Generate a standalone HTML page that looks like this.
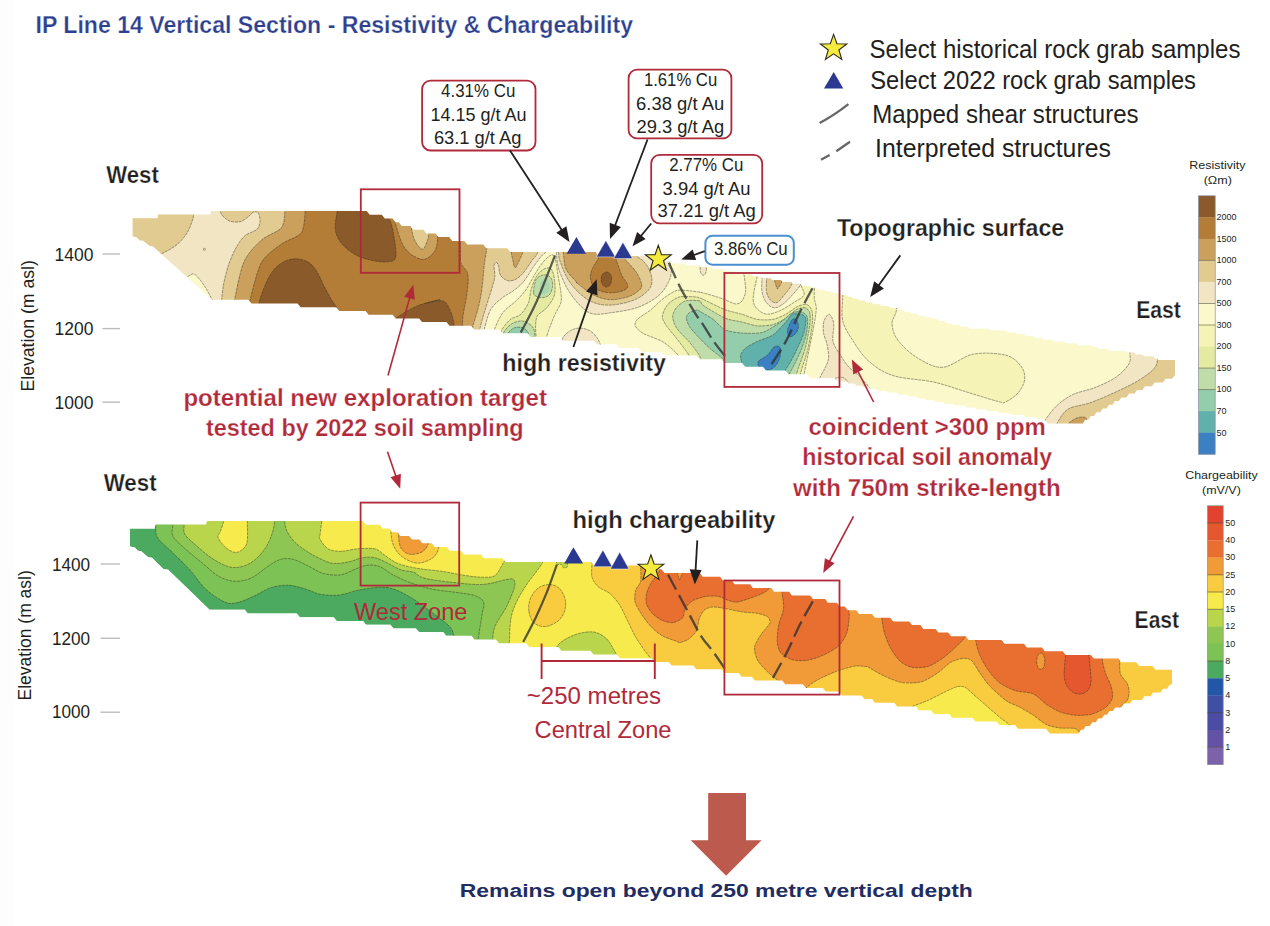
<!DOCTYPE html>
<html><head><meta charset="utf-8"><title>IP Line 14 Vertical Section</title>
<style>
html,body{margin:0;padding:0;background:#fff;}
body{width:1270px;height:926px;overflow:hidden;}
svg{display:block;font-family:"Liberation Sans",sans-serif;}
</style></head><body>
<svg width="1270" height="926" viewBox="0 0 1270 926">
<rect width="1270" height="926" fill="#fff"/><rect width="14" height="926" fill="#fdfdfd"/>
<clipPath id="rc"><path d="M132.6 218.3L157.8 218.3L157.8 214.6L210.7 214.6L210.7 211.1L366.7 211.1L369.7 214.8L381.8 214.8L384.8 218.5L392.5 218.5L395.5 222.3L398.8 222.3L401.8 226L410.2 226L413.2 229.7L423.4 229.7L426.4 233.4L435.4 233.4L438.4 237.1L449.2 237.1L452.2 240.9L464.3 240.9L467.3 244.6L483.2 244.6L486.2 248.3L507.2 248.3L510.2 252L596 252L597.5 255.9L646 255.9L646 257.8L649.2 257.8L650.8 259.6L660 259.6L661.5 261.5L670.5 261.5L672 263.3L685 263.3L686.5 265.2L699.2 265.2L700.8 267.1L712.2 267.1L713.8 268.9L724 268.9L725.5 270.8L733.5 270.8L735 272.6L742.7 272.6L744.3 274.5L751.7 274.5L753.3 276.4L760.5 276.4L762 278.2L770.7 278.2L772.3 280.1L781 280.1L782.5 281.9L791.2 281.9L792.8 283.8L800.5 283.8L802 285.7L809.5 285.7L811 287.5L817 287.5L818.5 289.4L824.5 289.4L826 291.2L832 291.2L833.5 293.1L839.2 293.1L840.8 295L846.5 295L848 296.8L852 296.8L853.5 298.7L857.7 298.7L859.3 300.5L864.7 300.5L866.3 302.4L872.2 302.4L873.8 304.3L880 304.3L881.5 306.1L888.5 306.1L890 308L896.7 308L898.3 309.8L903.5 309.8L905 311.7L910 311.7L911.5 313.6L917 313.6L918.5 315.4L924.2 315.4L925.8 317.3L931.5 317.3L933 319.1L938.2 319.1L939.8 321L944.5 321L946 322.9L950.7 322.9L952.3 324.7L959 324.7L960.5 326.6L968.2 326.6L969.8 328.4L989.2 328.4L990.8 330.3L1005.7 330.3L1007.3 332.2L1015 332.2L1016.5 334L1024.2 334L1025.8 335.9L1033.2 335.9L1034.8 337.7L1042.5 337.7L1044 339.6L1053 339.6L1054.5 341.5L1064.2 341.5L1065.8 343.3L1077.2 343.3L1078.8 345.2L1092.5 345.2L1094 347L1097.5 347L1099 348.9L1108.5 348.9L1110 350.8L1125.5 350.8L1127 352.6L1134.2 352.6L1135.8 354.5L1142.7 354.5L1144.3 356.3L1153.2 356.3L1154.8 358.2L1157 358.2L1158.5 360.1L1175 360.1L1175 376.2L1174.7 375L1172.3 378.8L1165.5 378.8L1163 382.5L1154.5 382.5L1152 386.2L1145 386.2L1142.5 389.9L1137 389.9L1134.5 393.6L1129 393.6L1126.5 397.4L1121.2 397.4L1118.8 401.1L1115 401.1L1112.5 404.8L1109 404.8L1106.5 408.5L1102.7 408.5L1100.3 412.2L1096.5 412.2L1094 416L1090.7 416L1088.3 419.7L1085.2 419.7L1082.8 423.4L1078.9 423.4L1046.8 423.4L1046.8 422.6L1047.1 422.6L1045.5 420.7L1044.8 420.7L1043.2 418.8L1035.1 418.8L1033.5 417L1024.3 417L1022.8 415.1L1011.8 415.1L1010.2 413.3L999.6 413.3L998 411.4L987.6 411.4L986 409.5L976.8 409.5L975.2 407.7L966.1 407.7L964.5 405.8L955.3 405.8L953.8 404L944.8 404L943.2 402.1L935.3 402.1L933.8 400.2L926.3 400.2L924.8 398.4L917.3 398.4L915.8 396.5L908.6 396.5L907 394.7L898.6 394.7L897 392.8L888.1 392.8L886.5 390.9L877.8 390.9L876.2 389.1L870.6 389.1L869 387.2L863.3 387.2L861.8 385.4L856.1 385.4L854.5 383.5L848.8 383.5L847.2 381.6L841.6 381.6L840 379.8L837.5 379.8L837.5 381.6L834.5 377.9L809.5 377.9L806.5 374.2L788.5 374.2L785.5 370.5L766 370.5L763 366.8L745.2 366.8L742.2 363L724.4 363L721.4 359.3L699.8 359.3L696.8 355.6L663.9 355.6L660.9 351.9L641.2 351.9L638.2 348.2L619.5 348.2L616.5 344.4L597 344.4L594 340.7L563 340.7L560 337L530.8 337L527.8 333.3L502.5 333.3L499.5 329.6L474.1 329.6L471.1 325.8L449.5 325.8L446.5 322.1L422.1 322.1L419.1 318.4L395.7 318.4L392.7 314.7L368.6 314.7L365.6 311L339.3 311L336.3 307.2L300.6 307.2L297.6 303.5L251.5 303.5L248.5 299.8L212.1 299.8L153.1 246.6L149.8 246L145.5 242.8L142.8 240.6L139.6 240.6L136.9 237.4L132.6 236.3Z"/></clipPath>
<g clip-path="url(#rc)" opacity="0.999">
<path d="M132.6 218.3L157.8 218.3L157.8 214.6L210.7 214.6L210.7 211.1L366.7 211.1L369.7 214.8L381.8 214.8L384.8 218.5L392.5 218.5L395.5 222.3L398.8 222.3L401.8 226L410.2 226L413.2 229.7L423.4 229.7L426.4 233.4L435.4 233.4L438.4 237.1L449.2 237.1L452.2 240.9L464.3 240.9L467.3 244.6L483.2 244.6L486.2 248.3L507.2 248.3L510.2 252L596 252L597.5 255.9L646 255.9L646 257.8L649.2 257.8L650.8 259.6L660 259.6L661.5 261.5L670.5 261.5L672 263.3L685 263.3L686.5 265.2L699.2 265.2L700.8 267.1L712.2 267.1L713.8 268.9L724 268.9L725.5 270.8L733.5 270.8L735 272.6L742.7 272.6L744.3 274.5L751.7 274.5L753.3 276.4L760.5 276.4L762 278.2L770.7 278.2L772.3 280.1L781 280.1L782.5 281.9L791.2 281.9L792.8 283.8L800.5 283.8L802 285.7L809.5 285.7L811 287.5L817 287.5L818.5 289.4L824.5 289.4L826 291.2L832 291.2L833.5 293.1L839.2 293.1L840.8 295L846.5 295L848 296.8L852 296.8L853.5 298.7L857.7 298.7L859.3 300.5L864.7 300.5L866.3 302.4L872.2 302.4L873.8 304.3L880 304.3L881.5 306.1L888.5 306.1L890 308L896.7 308L898.3 309.8L903.5 309.8L905 311.7L910 311.7L911.5 313.6L917 313.6L918.5 315.4L924.2 315.4L925.8 317.3L931.5 317.3L933 319.1L938.2 319.1L939.8 321L944.5 321L946 322.9L950.7 322.9L952.3 324.7L959 324.7L960.5 326.6L968.2 326.6L969.8 328.4L989.2 328.4L990.8 330.3L1005.7 330.3L1007.3 332.2L1015 332.2L1016.5 334L1024.2 334L1025.8 335.9L1033.2 335.9L1034.8 337.7L1042.5 337.7L1044 339.6L1053 339.6L1054.5 341.5L1064.2 341.5L1065.8 343.3L1077.2 343.3L1078.8 345.2L1092.5 345.2L1094 347L1097.5 347L1099 348.9L1108.5 348.9L1110 350.8L1125.5 350.8L1127 352.6L1134.2 352.6L1135.8 354.5L1142.7 354.5L1144.3 356.3L1153.2 356.3L1154.8 358.2L1157 358.2L1158.5 360.1L1175 360.1L1175 376.2L1174.7 375L1172.3 378.8L1165.5 378.8L1163 382.5L1154.5 382.5L1152 386.2L1145 386.2L1142.5 389.9L1137 389.9L1134.5 393.6L1129 393.6L1126.5 397.4L1121.2 397.4L1118.8 401.1L1115 401.1L1112.5 404.8L1109 404.8L1106.5 408.5L1102.7 408.5L1100.3 412.2L1096.5 412.2L1094 416L1090.7 416L1088.3 419.7L1085.2 419.7L1082.8 423.4L1078.9 423.4L1046.8 423.4L1046.8 422.6L1047.1 422.6L1045.5 420.7L1044.8 420.7L1043.2 418.8L1035.1 418.8L1033.5 417L1024.3 417L1022.8 415.1L1011.8 415.1L1010.2 413.3L999.6 413.3L998 411.4L987.6 411.4L986 409.5L976.8 409.5L975.2 407.7L966.1 407.7L964.5 405.8L955.3 405.8L953.8 404L944.8 404L943.2 402.1L935.3 402.1L933.8 400.2L926.3 400.2L924.8 398.4L917.3 398.4L915.8 396.5L908.6 396.5L907 394.7L898.6 394.7L897 392.8L888.1 392.8L886.5 390.9L877.8 390.9L876.2 389.1L870.6 389.1L869 387.2L863.3 387.2L861.8 385.4L856.1 385.4L854.5 383.5L848.8 383.5L847.2 381.6L841.6 381.6L840 379.8L837.5 379.8L837.5 381.6L834.5 377.9L809.5 377.9L806.5 374.2L788.5 374.2L785.5 370.5L766 370.5L763 366.8L745.2 366.8L742.2 363L724.4 363L721.4 359.3L699.8 359.3L696.8 355.6L663.9 355.6L660.9 351.9L641.2 351.9L638.2 348.2L619.5 348.2L616.5 344.4L597 344.4L594 340.7L563 340.7L560 337L530.8 337L527.8 333.3L502.5 333.3L499.5 329.6L474.1 329.6L471.1 325.8L449.5 325.8L446.5 322.1L422.1 322.1L419.1 318.4L395.7 318.4L392.7 314.7L368.6 314.7L365.6 311L339.3 311L336.3 307.2L300.6 307.2L297.6 303.5L251.5 303.5L248.5 299.8L212.1 299.8L153.1 246.6L149.8 246L145.5 242.8L142.8 240.6L139.6 240.6L136.9 237.4L132.6 236.3Z" fill="#FBF8CB"/>
<path d="M546 244.4C546 245.6 546.7 249.6 546 251.6C545.2 253.5 543.5 253.6 541.4 256.1C539.4 258.6 536.7 262.1 533.6 266.5C530.6 270.8 526.7 277.9 523.3 282C519.8 286.1 516.4 288.5 512.9 291.1C509.5 293.7 506.2 294.5 502.6 297.6C498.9 300.6 493.9 304 490.9 309.2C487.9 314.4 485.9 323.2 484.4 328.6C482.9 334 482.3 339.4 481.8 341.6L100 450L100 150Z" fill="#F1E5C3" stroke="#2b2b20" stroke-width="0.45" stroke-dasharray="3 0.8"/>
<path d="M556.3 244.4C556.3 245.8 556.1 249.6 556.3 252.9C556.5 256.1 557 260.6 557.6 263.9C558.2 267.1 558.3 268.2 559.9 272.4C561.6 276.6 564.5 283.9 567.7 289.3C571 294.7 575.3 300.7 579.4 304.8C583.5 308.9 587 312.6 592.4 313.8C597.8 315.1 604.3 313.6 611.8 312.6C619.4 311.5 630 310.2 637.7 307.4C645.5 304.6 653.3 300 658.5 295.7C663.6 291.4 666.7 285.8 668.8 281.5C671 277.1 671.2 273 671.4 269.8C671.6 266.6 670.3 266.1 670.1 262C669.9 257.9 670.1 248 670.1 245.2Z" fill="#F1E5C3" stroke="#2b2b20" stroke-width="0.45" stroke-dasharray="3 0.8"/>
<path d="M561.3 351.4C561.5 349.3 561.1 341.9 562.6 338.5C564.1 335 567.6 332.4 570.4 330.7C573.2 329 576.2 328.1 579.4 328.1C582.7 328.1 586.8 329 589.8 330.7C592.8 332.4 595.6 335.7 597.6 338.5C599.5 341.3 600.8 346 601.5 347.5Z" fill="#F1E5C3" stroke="#2b2b20" stroke-width="0.45" stroke-dasharray="3 0.8"/>
<path d="M700.6 259.4C700.5 261.4 699.9 268.5 700.3 271.1C700.7 273.7 702.2 275.1 703.2 275.2C704.1 275.3 705.6 274.4 706.1 271.7C706.7 269.1 706.4 261.5 706.4 259.4Z" fill="#F1E5C3" stroke="#2b2b20" stroke-width="0.45" stroke-dasharray="3 0.8"/>
<path d="M819.6 393.3C819.4 391.5 817.5 385.3 818.3 381.6C819 377.9 823.2 372.1 824.7 368.6C826.3 365.1 828.2 361.8 828.6 358.3C829 354.8 828.1 349.2 827.3 345.3C826.6 341.4 823.9 336.1 823.4 332.4C823 328.7 823.2 323.4 824.1 320.7C825 318 827.8 313.8 829.3 314.2C830.7 314.7 833.2 319.6 833.8 323.7C834.3 327.8 831.9 336.7 833 341.5C834 346.4 838.6 352.2 841.1 356.1C843.5 360 846.2 364.3 849.1 367.4C852.1 370.6 856.8 373.3 860.5 377.2C864.1 381.1 870.3 388.5 873.4 393.4C876.6 398.2 880.3 407.1 881.5 409.6Z" fill="#F1E5C3" stroke="#2b2b20" stroke-width="0.45" stroke-dasharray="3 0.8"/>
<path d="M829.7 393.4C830.1 391.3 830.5 383.9 832.1 381.2C833.8 378.5 837 377.3 839.4 377.2C841.9 377 845 377.7 846.7 380.4C848.5 383.1 849.4 391.2 850 393.4Z" fill="#F1E5C3" stroke="#2b2b20" stroke-width="0.45" stroke-dasharray="3 0.8"/>
<path d="M1129.8 340C1129.8 342 1129.9 348.2 1129.8 352.1C1129.7 356 1131.3 359.4 1129.1 363.5C1126.9 367.6 1122.1 372.9 1116.4 376.9C1110.7 380.9 1102.2 384.7 1095 387.6C1087.8 390.5 1079.8 391.4 1073.5 394.3C1067.2 397.2 1062.2 400.8 1057.5 405C1052.8 409.2 1048.3 415.5 1045.4 419.7C1042.5 423.9 1040.9 428.3 1040 430L1200 430L1200 340Z" fill="#F1E5C3" stroke="#2b2b20" stroke-width="0.45" stroke-dasharray="3 0.8"/>
<path d="M182 282C183 281.1 186.2 277.6 188.2 276.3C190.2 275 192 273.4 194.1 274.1C196.2 274.8 198.4 277.9 200.6 280.6C202.8 283.3 204.9 286.7 207.1 290.3C209.2 293.9 212.4 300.1 213.5 302Z" fill="#FBF8CB" stroke="#2b2b20" stroke-width="0.45" stroke-dasharray="3 0.8"/>
<path d="M204.4 247.8C204.7 247.8 205.3 248.8 205.3 249.3C205.3 249.8 204.7 250.9 204.4 250.9C204.1 250.9 203.5 249.8 203.5 249.3C203.5 248.8 204.1 247.8 204.4 247.8Z" fill="#F1E5C3" stroke="#2b2b20" stroke-width="0.45" stroke-dasharray="3 0.8"/>
<path d="M193.8 200C193.8 202.4 194 210.9 193.6 214.7C193.2 218.5 192.6 219.9 191.5 223C190.4 226.1 189.1 229.7 187 233C184.9 236.3 181.8 240.1 179 242.8C176.2 245.5 173.4 247.2 170.5 249C167.6 250.8 165.4 251.9 161.7 253.6C157.9 255.3 150.3 258.1 148 259L100 300L100 180Z" fill="#E2CB90" stroke="#2b2b20" stroke-width="0.45" stroke-dasharray="3 0.8"/>
<path d="M219.5 200.1C219.7 202 220 210 220.8 212.7C221.5 215.3 223.1 216.4 224.6 217.7C226.1 219 228.4 220.9 230.9 221.5C233.3 222.1 238.3 222.3 240.9 221.5C243.6 220.7 246.6 217.9 248.5 216.5C250.4 215.1 252.1 212.7 253.5 212.2C255 211.6 257.1 211.5 258.1 212.7C259.1 213.9 260.2 217.8 260.1 220.2C260 222.7 259.6 226.7 257.3 229.1C255 231.4 247.9 233 244.7 235.9C241.5 238.7 238.4 243.5 235.9 248C233.4 252.4 230.2 259.9 228.3 265.6C226.5 271.3 224.4 279.3 223.3 285.7C222.2 292.2 221.2 305 220.8 308.4L479.9 341.6C479.9 339.7 479 333.7 479.9 328.6C480.8 323.6 483.9 314.1 485.7 307.9C487.6 301.7 490.8 291.9 492.2 287.2C493.5 282.5 494.5 280.1 494.8 276.8C495.1 273.5 493.8 267.3 494.1 265.2C494.4 263 496 262.4 496.7 262.6C497.4 262.8 498.1 264.5 498.7 266.5C499.2 268.4 499.2 273.4 500.6 275.5C502 277.7 505.5 280.1 507.7 280.7C510 281.3 513.2 280.6 515.5 279.4C517.8 278.2 520.8 275.9 523.3 272.9C525.8 270 530.2 263 532.3 260C534.5 257 536.6 256.2 537.5 252.9C538.5 249.6 538.6 240.2 538.8 238Z" fill="#E2CB90" stroke="#2b2b20" stroke-width="0.45" stroke-dasharray="3 0.8"/>
<path d="M558.3 244.4C558.3 245.8 558.2 250.1 558.5 252.9C558.8 255.6 558.4 256.4 559.9 260.8C561.5 265.1 564.3 273.3 567.7 278.9C571.2 284.5 575.9 290.3 580.7 294.4C585.4 298.5 590.7 301.8 596.3 303.5C601.9 305.2 607.9 305.4 614.4 304.8C620.9 304.1 629.5 302 635.1 299.6C640.8 297.2 645.3 293.5 648.1 290.5C650.9 287.5 651.8 284.9 652 281.5C652.2 278 650.9 273.3 649.4 269.8C647.9 266.3 645.1 263.1 642.9 260.7C640.8 258.4 637.6 258.1 636.4 255.5C635.2 253 635.9 246.9 635.8 245.2Z" fill="#E2CB90" stroke="#2b2b20" stroke-width="0.45" stroke-dasharray="3 0.8"/>
<path d="M1157.9 345C1157.9 347.2 1158.6 354.1 1157.9 358.1C1157.2 362.1 1157.2 365 1153.9 368.8C1150.6 372.6 1144.5 376.9 1137.8 380.9C1131.1 384.9 1121.7 389.2 1113.7 392.9C1105.7 396.6 1097.2 400.3 1089.6 403C1082 405.7 1073.5 405.8 1068.2 409C1062.9 412.2 1059.7 418.9 1057.5 422.4C1055.3 425.9 1055.4 428.7 1055 430L1200 430L1200 345Z" fill="#E2CB90" stroke="#2b2b20" stroke-width="0.45" stroke-dasharray="3 0.8"/>
<path d="M1066 430C1066.3 429.2 1068.3 423.6 1069.5 422.4C1070.7 421.2 1076 418.2 1077.6 417.7C1079.2 417.2 1084.4 416.5 1085.6 417.7C1086.8 418.9 1089.6 428.8 1090 430Z" fill="#CBA05C" stroke="#2b2b20" stroke-width="0.45" stroke-dasharray="3 0.8"/>
<path d="M285 200.1C285 201.7 285.6 206.5 285 210.7C284.5 214.8 284.9 223.3 281.3 227.8C277.7 232.3 266.8 235.1 261.1 240.4C255.4 245.7 247.6 253.2 243.5 263.1C239.3 272.9 234.9 299.5 233.4 305.9L472.8 341.6C472.8 339.5 472 332.2 472.8 327.3C473.5 322.5 476.6 314.8 477.9 309.2C479.3 303.6 480.9 296.6 481.8 289.8C482.8 283 483.6 270.4 484.4 263.9C485.2 257.4 486.6 251 487 246.4C487.4 241.7 487 234.8 487 232.8Z" fill="#CBA05C" stroke="#2b2b20" stroke-width="0.45" stroke-dasharray="3 0.8"/>
<path d="M511 244.4C511 244.8 510.8 250.5 511 251.6C511.1 252.7 514 265.7 514.2 266.5C514.5 267.2 515.7 267.9 516.2 267.1C516.6 266.4 522.9 252.7 523.3 251.6C523.6 250.4 523.3 244.8 523.3 244.4Z" fill="#CBA05C" stroke="#2b2b20" stroke-width="0.45" stroke-dasharray="3 0.8"/>
<path d="M563.4 244.4C563.4 245.8 563 248.8 563.4 252.9C563.9 257 563.9 264.2 566 269C568.2 273.9 574.6 279.7 576.4 282C578.2 284.3 574.2 280.7 576.8 282.8C579.5 284.8 587 291.6 592.4 294.4C597.8 297.2 603.4 299.2 609.2 299.6C615.1 300 622.4 298.5 627.4 297C632.3 295.5 636.7 292.7 639 290.5C641.4 288.4 642.1 287.1 641.6 284C641.2 281 638.6 275.8 636.4 272.4C634.3 268.9 630.6 265.7 628.7 263.3C626.7 260.9 625.4 261.2 624.8 258.1C624.1 255.1 624.8 247.3 624.8 245.2Z" fill="#CBA05C" stroke="#2b2b20" stroke-width="0.45" stroke-dasharray="3 0.8"/>
<path d="M305.2 200.1C305.2 201.5 305.7 206.3 305.2 210.7C304.7 215 304.6 228.4 301.4 232.8C298.2 237.3 286.6 240.1 281.3 244.2C275.9 248.2 265.5 254.8 261.1 263.1C256.7 271.3 250.2 300.2 248.5 305.9L462.4 341.6C462.4 339.7 462.3 330.8 462.4 327.3C462.5 323.9 462.5 319.7 463 315.7C463.6 311.7 465.6 302.2 466.3 297.6C467 292.9 468.1 284.2 468.2 280.7C468.3 277.3 467.9 274.1 466.9 271.6C465.9 269.2 461.7 266.6 460.8 262.6C460 258.5 460.5 246.2 460.4 241.2C460.4 236.2 460.4 227.2 460.4 225Z" fill="#B37C37" stroke="#2b2b20" stroke-width="0.45" stroke-dasharray="3 0.8"/>
<path d="M598.9 245.2C598.9 247.1 599.9 253 598.9 256.8C597.8 260.7 593.8 265 592.4 268.5C591 272 590.2 274.5 590.4 277.6C590.7 280.6 591.6 284.3 593.7 286.6C595.7 289 599.1 290.9 602.8 291.8C606.4 292.8 611.8 292.9 615.7 292.5C619.6 292 624.1 290.6 626.1 289.2C628 287.8 628 286.2 627.4 284C626.7 281.9 623.7 279.3 622.2 276.3C620.7 273.3 619.4 269 618.3 265.9C617.2 262.8 616.1 260.9 615.7 257.5C615.3 254 615.7 247.2 615.7 245.2Z" fill="#B37C37" stroke="#2b2b20" stroke-width="0.45" stroke-dasharray="3 0.8"/>
<path d="M337.2 199.8C337.2 201.7 337.6 206.7 337.2 210.8C336.9 214.9 335.4 220.4 335.3 224.4C335.2 228.4 335.3 231.3 336.6 234.8C337.9 238.3 340.1 241.9 343.1 245.2C346.1 248.4 350.6 251.9 354.7 254.2C358.8 256.6 362.3 258.1 367.7 259.4C373.1 260.7 382.4 262.5 387.1 261.8C391.8 261.2 395.3 262 395.9 255.5C396.5 249 393.2 229.9 390.9 222.8C388.6 215.6 383.5 216.5 382 212.7C380.6 208.9 382 202.2 382 200.1Z" fill="#8A5A2A" stroke="#2b2b20" stroke-width="0.45" stroke-dasharray="3 0.8"/>
<path d="M257.6 316.4C257.8 314.3 257.8 308.2 258.9 303.5C259.9 298.7 261.9 293.1 264 287.9C266.2 282.7 268.8 276.6 271.8 272.4C274.8 268.2 278.3 264.9 282.2 262.7C286.1 260.4 290.8 258.9 295.1 258.8C299.5 258.7 304.5 260 308.1 262C311.7 264.1 313.9 267.2 316.5 271.1C319.1 275 321.2 280.6 323.6 285.3C326.1 290.1 329.3 295.9 331.4 299.6C333.6 303.2 335.1 304.5 336.6 307.3C338.1 310.2 339.8 314.9 340.5 316.4Z" fill="#8A5A2A" stroke="#2b2b20" stroke-width="0.45" stroke-dasharray="3 0.8"/>
<path d="M394.6 321C395.1 320.4 393.4 319.8 397.2 317.2C400.9 314.7 410.2 308.8 417.3 305.9C424.5 303 438.7 300 440 299.6C441.3 299.2 424.7 303.2 425.2 303.5C425.7 303.7 438.6 299.7 442.8 300.9C447 302.2 448.5 306.8 450.4 311C452.3 315.2 453.5 321.1 454.2 326.1C454.8 331.2 454.2 338.7 454.2 341.3Z" fill="#8A5A2A" stroke="#2b2b20" stroke-width="0.45" stroke-dasharray="3 0.8"/>
<path d="M606.4 272C607.7 272 609.7 273.1 610.5 274.3C611.4 275.6 611.6 277.8 611.6 279.5C611.5 281.2 611.1 283.4 610.3 284.7C609.4 285.9 607.7 287 606.4 287C605.1 287 603.4 285.9 602.5 284.7C601.6 283.4 601.2 281.2 601.2 279.5C601.2 277.8 601.6 275.6 602.5 274.3C603.4 273.1 605 272 606.4 272Z" fill="#8A5A2A" stroke="#2b2b20" stroke-width="0.45" stroke-dasharray="3 0.8"/>
<path d="M393.4 205.1C393.6 207.6 392.8 213.1 394.6 220.2C396.5 227.4 400.1 241.4 404.7 248C409.3 254.5 417.3 258.9 422.4 259.3C427.4 259.7 432.4 254.9 435 250.5C437.6 246.1 437.4 240.4 438 232.8C438.6 225.3 438.6 209.7 438.7 205.1Z" fill="#CBA05C" stroke="#2b2b20" stroke-width="0.45" stroke-dasharray="3 0.8"/>
<path d="M410.3 205.1C410.4 208.5 410.3 219.4 411 225.3C411.8 231.2 412.9 236.4 414.8 240.4C416.7 244.4 420.3 249.2 422.4 249.2C424.5 249.2 426.3 243.3 427.4 240.4C428.5 237.5 428.6 237.5 428.9 231.6C429.2 225.7 429.3 209.5 429.4 205.1Z" fill="#E2CB90" stroke="#2b2b20" stroke-width="0.45" stroke-dasharray="3 0.8"/>
<path d="M492.2 348.1C492.4 345.5 491.8 338.4 493.5 332.5C495.2 326.7 498.9 318.3 502.6 313.1C506.2 307.9 511.6 305.3 515.5 301.4C519.4 297.6 522.6 294.3 525.9 289.8C529.1 285.2 532.1 278.8 534.9 274.2C537.7 269.7 540.1 265.7 542.7 262.6C545.3 259.4 548.5 256.5 550.5 255.4C552.4 254.4 553.4 254.7 554.4 256.1C555.3 257.5 555.7 260.4 556.3 263.9C557 267.3 557.5 272.1 558.3 276.8C559 281.6 560.4 288 560.9 292.4C561.3 296.7 561.9 298.8 560.9 302.7C559.8 306.6 556.7 310.1 554.4 315.7C552 321.3 548.3 331 546.6 336.4C544.9 341.8 544.4 346.1 544 348.1Z" fill="#F5F3B6" stroke="#2b2b20" stroke-width="0.45" stroke-dasharray="3 0.8"/>
<path d="M500 348.1C500.1 345.5 498.9 337.3 500.6 332.5C502.3 327.8 507 322.6 510.3 319.6C513.7 316.6 517.7 317.2 520.7 314.4C523.7 311.6 526.7 306.8 528.5 302.7C530.2 298.6 529.8 294.1 531.1 289.8C532.3 285.5 534.1 280.3 536.2 276.8C538.4 273.4 541.5 270.3 544 269C546.5 267.8 549.4 267.3 551.1 269C552.9 270.8 553.8 275.1 554.4 279.4C554.9 283.7 555.7 290.2 554.4 295C553.1 299.7 549.4 304.5 546.6 307.9C543.8 311.4 539.4 312.7 537.5 315.7C535.7 318.7 535.8 322.2 535.6 326.1C535.4 329.9 536.1 335.3 536.2 339C536.3 342.7 536.2 346.6 536.2 348.1Z" fill="#E4EAA2" stroke="#2b2b20" stroke-width="0.45" stroke-dasharray="3 0.8"/>
<path d="M533.6 292.4C533.6 289.6 534.5 282.3 536.2 279.4C538 276.5 541.5 275.1 544 274.9C546.5 274.7 549.7 276.1 551.1 278.1C552.5 280.2 552.8 284.4 552.4 287.2C552.1 290 550.8 293.2 549.2 295C547.6 296.7 544.9 297.3 542.7 297.6C540.6 297.8 537.7 297.1 536.2 296.3C534.7 295.4 533.6 295.2 533.6 292.4Z" fill="#C0DDA9" stroke="#2b2b20" stroke-width="0.45" stroke-dasharray="3 0.8"/>
<path d="M502.6 348.1C502.6 345.9 501.3 339 502.6 335.1C503.8 331.2 507.3 327.1 510.3 324.8C513.3 322.4 517.7 321.1 520.7 320.9C523.7 320.7 526.3 322.2 528.5 323.5C530.6 324.8 532.6 326.3 533.6 328.6C534.7 331 534.7 334.5 534.9 337.7C535.2 341 534.9 346.3 534.9 348.1Z" fill="#C0DDA9" stroke="#2b2b20" stroke-width="0.45" stroke-dasharray="3 0.8"/>
<path d="M539.5 287.2C539.5 285.4 539.9 282.8 540.8 281.4C541.6 280 543.4 278.8 544.7 278.8C546 278.8 547.7 280 548.5 281.4C549.4 282.8 550 285.3 549.8 287.2C549.7 289.1 548.7 291.4 547.6 292.6C546.6 293.8 545 294.4 543.7 294.3C542.5 294.3 541.1 293.6 540.4 292.4C539.7 291.2 539.4 289 539.5 287.2Z" fill="#A9D6AA"/>
<path d="M507.7 348.1C507.5 346.1 505.6 339.7 506.4 336.4C507.3 333.2 510.5 330.2 512.9 328.6C515.3 327.1 518.3 326.9 520.7 327.3C523.1 327.8 525.8 329.3 527.2 331.2C528.6 333.2 528.8 336.2 529.1 339C529.4 341.8 529.1 346.6 529.1 348.1Z" fill="#93CDAC" stroke="#2b2b20" stroke-width="0.45" stroke-dasharray="3 0.8"/>
<path d="M679.2 369.6C679.2 367.8 681.3 360.2 679.2 356.6C677.1 353 668.5 345.5 663.6 342.3C658.8 339.2 646.7 335.5 642.9 333.3C639.1 331 635.8 327.4 635.1 325.5C634.5 323.6 635.7 321.1 637.7 319C639.8 317 647.2 312.7 650.7 310C654.1 307.2 660.2 300.9 663.6 298.3C667.1 295.7 673.1 291.5 676.6 290.5C680.1 289.5 686.5 290.6 690 290.9C693.5 291.2 698.6 291.8 703 292.9C707.3 293.9 718.1 297.2 722.4 298.7C726.7 300.2 732.8 303.5 735.3 303.9C737.9 304.2 740.4 303 741.8 301.3C743.2 299.5 745.4 294.7 745.7 290.9C746 287.1 744 275.2 743.8 272.8L814.4 265L814.4 283.1C814.4 285.2 814.1 295.4 814.4 298.7C814.6 302 816.3 304.5 816.3 307.8C816.3 311 815.3 317.8 814.4 323.3C813.4 328.8 810.6 342.3 809.2 349.2C807.8 356.1 804.9 369.2 804 375.1C803.1 381 802.9 390.8 802.7 393.3Z" fill="#F5F3B6" stroke="#2b2b20" stroke-width="0.45" stroke-dasharray="3 0.8"/>
<path d="M758 272.8C757.4 275.8 754.9 285.9 754.1 290.9C753.4 295.9 752.7 299.3 753.5 302.6C754.2 305.8 756.3 308.4 758.7 310.3C761 312.3 764.1 314.2 767.7 314.2C771.4 314.2 776.4 312.3 780.7 310.3C785 308.4 789.8 305.2 793.6 302.6C797.5 300 802.9 298 804 294.8C805.1 291.6 800.8 286.8 800.1 283.1C799.5 279.5 800.1 274.5 800.1 272.8Z" fill="#FBF8CB" stroke="#2b2b20" stroke-width="0.45" stroke-dasharray="3 0.8"/>
<path d="M762.6 272.8C762.4 275.8 761.3 285.9 761.9 290.9C762.6 295.9 764.4 299.8 766.4 302.6C768.5 305.4 771.4 307.5 774.2 307.8C777 308 780 306.2 783.3 303.9C786.5 301.5 790.6 297 793.6 293.5C796.7 290 800.1 286.6 801.4 283.1C802.7 279.7 801.4 274.5 801.4 272.8Z" fill="#F1E5C3" stroke="#2b2b20" stroke-width="0.45" stroke-dasharray="3 0.8"/>
<path d="M767.1 272.8C767 275.8 765.9 286.4 766.4 290.9C767 295.4 768.6 298 770.3 300C772.1 301.9 774.6 303.2 776.8 302.6C779 301.9 780.8 299.1 783.3 296.1C785.8 293.1 790.3 288.3 791.7 284.4C793.1 280.5 791.7 274.7 791.7 272.8Z" fill="#E2CB90" stroke="#2b2b20" stroke-width="0.45" stroke-dasharray="3 0.8"/>
<path d="M774.2 276.7C774.2 276.9 774.7 281.2 774.9 281.8C775 282.5 777.1 288.9 777.4 289C777.8 289 781.1 283.8 781.3 283.1C781.6 282.5 782.2 277 782.2 276.7Z" fill="#CBA05C" stroke="#2b2b20" stroke-width="0.45" stroke-dasharray="3 0.8"/>
<path d="M689.6 369.6C689.6 367.8 691.3 360.7 689.6 356.6C687.8 352.5 679.7 342.6 676.6 338.5C673.5 334.3 668.1 328.4 666.2 325.5C664.3 322.6 662.2 319.2 662.3 316.4C662.5 313.7 665.3 307.4 667.5 304.8C669.8 302.2 675.4 298 679.2 297C683 296 692.9 296.7 696 297C699.2 297.3 699.1 297.6 703 299.3C706.8 301 719.8 307.7 725 309.7C730.2 311.7 737.5 312.9 741.8 314.2C746.1 315.5 753.2 318.7 757.4 319.4C761.5 320.1 769.1 320.1 772.9 319.4C776.7 318.7 782.6 316 785.9 314.2C789.2 312.5 794.8 307.8 797.5 306.5C800.3 305.2 804.7 304 806.6 304.5C808.5 305 811 307.8 811.8 310.3C812.6 312.8 812.9 318.1 812.4 323.3C811.9 328.5 809.5 342.3 807.9 349.2C806.3 356.1 801.3 369.2 800.1 375.1C798.9 381 799 390.8 798.8 393.3Z" fill="#E4EAA2" stroke="#2b2b20" stroke-width="0.45" stroke-dasharray="3 0.8"/>
<path d="M699.9 369.6C699.9 367.8 701.3 360.2 699.9 356.6C698.5 353 692.7 346.1 689.6 342.3C686.4 338.5 678.8 331.6 676.6 328.1C674.4 324.6 672.7 319.2 672.7 316.4C672.7 313.7 674.9 309.4 676.6 307.4C678.3 305.3 682.6 301.8 685.7 300.9C688.8 300 697.6 300.3 699.9 300.9C702.2 301.5 699.6 302.9 703 305.2C706.3 307.5 719.8 315.9 725 318.1C730.2 320.4 737.5 321 741.8 322C746.1 323 753.2 325.5 757.4 325.9C761.5 326.2 769.1 325.6 772.9 324.6C776.7 323.6 782.8 320.1 785.9 318.1C789 316.1 793.6 311.1 796.2 309.7C798.8 308.3 803.5 307.3 805.3 307.8C807.1 308.2 809.2 310.7 809.8 312.9C810.4 315.2 810.4 319.9 809.8 324.6C809.2 329.3 807.1 341.2 805.3 347.9C803.5 354.7 797.6 369.1 796.2 375.1C794.9 381.2 795.1 390.8 794.9 393.3Z" fill="#C0DDA9" stroke="#2b2b20" stroke-width="0.45" stroke-dasharray="3 0.8"/>
<path d="M725 393.3C725 389.3 725.6 368.4 725 363.5C724.3 358.6 722 358.5 720.1 356.6C718.1 354.6 713 351.2 710.3 348.8C707.6 346.4 702.6 341.4 699.8 338.5C697.1 335.5 691.4 329.6 689.6 326.8C687.8 324 686.3 319.6 686.3 317.7C686.3 315.8 688.1 313.6 689.6 312.6C691 311.5 695.9 310.1 697.3 310C698.8 309.8 698.2 310.4 700.4 311.6C702.5 312.9 710 317 713.3 319.4C716.6 321.8 721.2 328 725 329.8C728.8 331.6 736.8 332.7 741.8 333C746.8 333.4 757.4 333.8 762.6 332.4C767.7 330.9 776.9 324.5 780.7 322C784.5 319.5 788.5 315 791.1 313.6C793.6 312.2 798 311.2 800.1 311.6C802.3 312.1 806.4 314.1 807.2 316.8C808.1 319.6 807.4 328 806.6 332.4C805.8 336.7 803.1 344.7 801.4 349.2C799.7 353.7 795.4 362.4 793.6 366.1C791.9 369.7 789.3 372.8 788.5 376.4C787.6 380 787.3 391 787.2 393.3Z" fill="#93CDAC" stroke="#2b2b20" stroke-width="0.45" stroke-dasharray="3 0.8"/>
<path d="M745.7 388.1C745.4 385.3 743.8 371.7 743.1 367.3C742.4 363 740.2 358.3 740.5 355.7C740.9 353.1 743.5 349.8 745.7 347.9C748 346 753.7 343.2 757.4 341.4C761 339.7 769.1 337.6 772.9 335C776.7 332.4 783.3 324.8 785.9 322C788.5 319.2 790.1 315.2 792.3 314.2C794.6 313.3 800.9 314.2 802.7 314.9C804.5 315.6 805.8 317.1 806 319.4C806.1 321.7 805 328.9 804 332.4C803.1 335.8 800.6 341.5 798.8 345.3C797.1 349.1 793 357.2 791.1 360.9C789.2 364.5 785.6 368.9 784.6 372.5C783.5 376.2 783.5 386 783.3 388.1Z" fill="#60B0AC" stroke="#2b2b20" stroke-width="0.45" stroke-dasharray="3 0.8"/>
<path d="M792.1 319.9C793.6 318.3 795.4 318.7 796.5 319.9C797.6 321.1 798.7 324.8 798.4 327.2C798.2 329.6 796.4 332.9 794.8 334.4C793.3 336 790.3 337.4 789.1 336.6C787.9 335.9 787.1 332.6 787.6 329.8C788.1 327 790.6 321.6 792.1 319.9Z" fill="#3A80C2" stroke="#2b2b20" stroke-width="0.45" stroke-dasharray="3 0.8"/>
<path d="M759.3 360.6C760.9 359 765.3 357.3 767.7 355C770.2 352.8 772 348.5 774 347.1C775.9 345.8 778.6 345.7 779.7 347.1C780.7 348.6 780.9 352.6 780.3 355.7C779.7 358.7 777.9 363.1 776 365.4C774.1 367.7 771.5 369.2 769 369.7C766.5 370.1 762.8 369 761 368.1C759.2 367.3 758.3 365.8 758 364.5C757.7 363.2 757.7 362.2 759.3 360.6Z" fill="#3A80C2" stroke="#2b2b20" stroke-width="0.45" stroke-dasharray="3 0.8"/>
<path d="M842.7 286.5C842.7 288.2 842.7 291.3 842.7 297C842.7 302.7 841.1 313.3 842.7 320.5C844.3 327.6 848.1 333.2 852.4 339.9C856.7 346.7 861.8 355 868.6 361C875.3 366.9 882.1 372 892.9 375.5C903.7 379.1 921.2 379.3 933.4 382C945.5 384.7 955 388.5 965.7 391.7C976.5 395 991.5 399.8 998.1 401.5C1004.8 403.1 1002.4 403.3 1005.8 401.8C1009.2 400.4 1015.3 396.3 1018.4 392.5C1021.6 388.7 1024.3 383.6 1024.7 379.2C1025.1 374.8 1024.1 370.1 1020.9 366.1C1017.8 362.1 1013.8 357.2 1005.8 355.2C997.8 353.3 983.6 352.2 973.1 354.2C962.6 356.2 952.2 366.7 942.8 367.3C933.5 367.9 924.7 362.3 917.2 357.7C909.6 353.2 901.9 345.6 897.7 339.9C893.5 334.3 892.3 328.4 892.1 323.7C891.8 319 895.2 316.2 896.1 311.6C897.1 307 897.5 298.8 897.7 296.2Z" fill="#F5F3B6" stroke="#2b2b20" stroke-width="0.45" stroke-dasharray="3 0.8"/>
</g>
<path d="M555 255.4C553.6 259 549.9 268.5 546.6 276.8C543.3 285.1 539.3 296 534.9 305.3C530.6 314.6 523.1 328 520.7 332.5" fill="none" stroke="#2e3030" stroke-opacity="0.78" stroke-width="2.2"/>
<path d="M668.8 262.7C670.8 266.9 676.2 279.6 680.5 287.9C684.8 296.2 691 306.4 694.7 312.6C698.5 318.7 699.6 319.6 703 324.6C706.3 329.6 710.7 337.2 714.6 342.7C718.5 348.2 724.3 355.1 726.3 357.6" fill="none" stroke="#2e3030" stroke-opacity="0.78" stroke-width="2.3" stroke-dasharray="17 6"/>
<path d="M812.4 288.3C810.4 292.2 804.5 302.8 800.1 311.6C795.7 320.5 790.8 332.4 785.9 341.4C780.9 350.5 772.9 362 770.3 366.1" fill="none" stroke="#2e3030" stroke-opacity="0.78" stroke-width="2.3" stroke-dasharray="17 6"/>
<clipPath id="cc"><path d="M129.9 528.6L154.7 528.6L155.5 524.6L206 524.6L207 521.2L208.2 521L362.7 521L365.7 524.7L379.7 524.7L382.7 528.4L389.1 528.4L392.1 532.2L397.5 532.2L400.5 535.9L409 535.9L412 539.6L419.4 539.6L422.4 543.3L431.7 543.3L434.7 547L446.8 547L449.8 550.8L461 550.8L464 554.5L480.8 554.5L483.8 558.2L502.5 558.2L505.5 561.9L592 561.9L591.1 561.9L593.9 565.6L647.1 565.6L649.9 569.3L661.6 569.3L664.4 573.1L699.9 573.1L702.6 576.8L720.1 576.8L722.9 580.5L731.9 580.5L734.6 584.2L750.1 584.2L752.9 587.9L771.4 587.9L774.1 591.7L789.1 591.7L791.9 595.4L810.1 595.4L812.9 599.1L825.1 599.1L827.9 602.8L836.9 602.8L839.6 606.5L843 606.5L844.8 606.5L847.8 610.3L856.1 610.3L859.1 614L871.9 614L874.9 617.7L890.2 617.7L893.2 621.4L909.1 621.4L912.1 625.1L920.4 625.1L923.4 628.9L935.5 628.9L938.5 632.6L948.1 632.6L951.1 636.3L965.7 636.3L968.7 640L1001.5 640L1004.5 643.7L1023.9 643.7L1026.9 647.5L1041.9 647.5L1044.9 651.2L1062.7 651.2L1065.7 654.9L1090.8 654.9L1093.8 658.6L1118.2 658.6L1121.2 662.3L1136.3 662.3L1139.3 666.1L1152.4 666.1L1155.4 669.8L1172 669.8L1172 683.9L1169.5 685L1167 688.8L1163 688.8L1160.5 692.5L1153 692.5L1150.5 696.2L1144.2 696.2L1141.8 699.9L1132.5 699.9L1130 703.6L1124 703.6L1121.5 707.4L1115.2 707.4L1112.8 711.1L1109.5 711.1L1107 714.8L1104.2 714.8L1101.8 718.5L1098.2 718.5L1095.8 722.2L1092.2 722.2L1089.8 726L1085.7 726L1083.3 729.7L1081 729.7L1078.5 733.4L1077.6 733.4L1049.5 733.4L1049.5 732.6L1048.9 732.6L1046.1 728.8L1017.9 728.8L1015.1 725.1L999.4 725.1L996.6 721.4L975.4 721.4L972.6 717.7L952.1 717.7L949.4 714L933.9 714L931.1 710.2L918.9 710.2L916.1 706.5L897.1 706.5L894.4 702.8L874.9 702.8L872.1 699.1L864.5 699.1L864.5 699.1L861.5 695.4L841.9 695.4L838.9 691.6L825.8 691.6L822.8 687.9L806 687.9L803 684.2L785.2 684.2L782.2 680.5L754.9 680.5L751.9 676.8L741.7 676.8L738.7 673L724.7 673L721.7 669.3L696.3 669.3L693.3 665.6L671.7 665.6L668.7 661.9L654.5 661.9L651.5 658.2L620 658.2L617 654.4L593.5 654.4L590.5 650.7L561.4 650.7L558.4 647L529.3 647L526.3 643.3L499 643.3L496 639.6L474.5 639.6L471.5 635.8L446.1 635.8L443.1 632.1L418.9 632.1L415.9 628.4L393.4 628.4L390.4 624.7L366 624.7L363 621L336.7 621L333.7 617.2L299.8 617.2L296.8 613.5L247.8 613.5L244.8 609.8L209.5 609.8L168.2 569.7L163.3 569.1L152 557.8L148.2 557.3L141.2 551.3L138 550.8L134.7 547.5L129.9 546.5Z"/></clipPath>
<g clip-path="url(#cc)" opacity="0.999">
<path d="M129.9 528.6L154.7 528.6L155.5 524.6L206 524.6L207 521.2L208.2 521L362.7 521L365.7 524.7L379.7 524.7L382.7 528.4L389.1 528.4L392.1 532.2L397.5 532.2L400.5 535.9L409 535.9L412 539.6L419.4 539.6L422.4 543.3L431.7 543.3L434.7 547L446.8 547L449.8 550.8L461 550.8L464 554.5L480.8 554.5L483.8 558.2L502.5 558.2L505.5 561.9L592 561.9L591.1 561.9L593.9 565.6L647.1 565.6L649.9 569.3L661.6 569.3L664.4 573.1L699.9 573.1L702.6 576.8L720.1 576.8L722.9 580.5L731.9 580.5L734.6 584.2L750.1 584.2L752.9 587.9L771.4 587.9L774.1 591.7L789.1 591.7L791.9 595.4L810.1 595.4L812.9 599.1L825.1 599.1L827.9 602.8L836.9 602.8L839.6 606.5L843 606.5L844.8 606.5L847.8 610.3L856.1 610.3L859.1 614L871.9 614L874.9 617.7L890.2 617.7L893.2 621.4L909.1 621.4L912.1 625.1L920.4 625.1L923.4 628.9L935.5 628.9L938.5 632.6L948.1 632.6L951.1 636.3L965.7 636.3L968.7 640L1001.5 640L1004.5 643.7L1023.9 643.7L1026.9 647.5L1041.9 647.5L1044.9 651.2L1062.7 651.2L1065.7 654.9L1090.8 654.9L1093.8 658.6L1118.2 658.6L1121.2 662.3L1136.3 662.3L1139.3 666.1L1152.4 666.1L1155.4 669.8L1172 669.8L1172 683.9L1169.5 685L1167 688.8L1163 688.8L1160.5 692.5L1153 692.5L1150.5 696.2L1144.2 696.2L1141.8 699.9L1132.5 699.9L1130 703.6L1124 703.6L1121.5 707.4L1115.2 707.4L1112.8 711.1L1109.5 711.1L1107 714.8L1104.2 714.8L1101.8 718.5L1098.2 718.5L1095.8 722.2L1092.2 722.2L1089.8 726L1085.7 726L1083.3 729.7L1081 729.7L1078.5 733.4L1077.6 733.4L1049.5 733.4L1049.5 732.6L1048.9 732.6L1046.1 728.8L1017.9 728.8L1015.1 725.1L999.4 725.1L996.6 721.4L975.4 721.4L972.6 717.7L952.1 717.7L949.4 714L933.9 714L931.1 710.2L918.9 710.2L916.1 706.5L897.1 706.5L894.4 702.8L874.9 702.8L872.1 699.1L864.5 699.1L864.5 699.1L861.5 695.4L841.9 695.4L838.9 691.6L825.8 691.6L822.8 687.9L806 687.9L803 684.2L785.2 684.2L782.2 680.5L754.9 680.5L751.9 676.8L741.7 676.8L738.7 673L724.7 673L721.7 669.3L696.3 669.3L693.3 665.6L671.7 665.6L668.7 661.9L654.5 661.9L651.5 658.2L620 658.2L617 654.4L593.5 654.4L590.5 650.7L561.4 650.7L558.4 647L529.3 647L526.3 643.3L499 643.3L496 639.6L474.5 639.6L471.5 635.8L446.1 635.8L443.1 632.1L418.9 632.1L415.9 628.4L393.4 628.4L390.4 624.7L366 624.7L363 621L336.7 621L333.7 617.2L299.8 617.2L296.8 613.5L247.8 613.5L244.8 609.8L209.5 609.8L168.2 569.7L163.3 569.1L152 557.8L148.2 557.3L141.2 551.3L138 550.8L134.7 547.5L129.9 546.5Z" fill="#4BAA60"/>
<path d="M155.8 510C155.8 512.4 155.5 520 155.8 524.6C156 529.2 154.7 532.9 157.4 537.5C160.1 542.1 166.6 546.7 172 552.1C177.4 557.5 184.1 563.7 189.8 569.9C195.4 576.1 200 584 206 589.4C211.9 594.8 220 600.1 225.4 602.3C230.8 604.5 233.5 603.4 238.4 602.3C243.2 601.2 249.2 598.3 254.6 595.8C260 593.4 265.1 589.5 270.7 587.7C276.4 586 282.6 585 288.6 585.3C294.5 585.6 301.1 587.9 306.4 589.4C311.6 590.8 314.5 593.3 320 594.2C325.5 595.2 332.4 595.8 339.4 595C346.5 594.2 354 590.6 362.1 589.4C370.2 588.1 379.9 586.4 388 587.7C396.1 589.1 403.1 593.1 410.7 597.4C418.2 601.8 426.9 608.8 433.4 613.6C439.8 618.5 446 622.6 449.6 626.6C453.1 630.6 453.3 633.1 454.4 637.9C455.5 642.8 455.8 652.8 456 655.7L1300 900L1300 400Z" fill="#7CC254" stroke="#2b2b20" stroke-width="0.45" stroke-dasharray="3 0.8"/>
<path d="M172.8 510C172.8 512.4 172.8 520.3 172.8 524.6C172.8 528.9 171 532.1 172.8 535.9C174.5 539.7 178.3 542.7 183.3 547.2C188.3 551.8 196.8 558.6 202.7 563.4C208.7 568.3 213.5 573.4 218.9 576.4C224.3 579.4 229.7 581 235.1 581.3C240.5 581.5 245.9 580.4 251.3 578C256.7 575.6 262.7 569.8 267.5 566.7C272.4 563.6 276.1 560.6 280.5 559.4C284.8 558.2 288.6 558.2 293.4 559.4C298.3 560.6 304.6 564.3 309.6 566.7C314.6 569 318 572.1 323.2 573.5C328.5 574.8 335.4 575.6 341.1 574.8C346.7 573.9 352.7 569.9 357.2 568.3C361.8 566.7 364.8 565.3 368.6 565.1C372.4 564.8 375.9 565.1 379.9 566.7C384 568.3 387.7 572.1 392.9 574.8C398 577.5 403.9 580.4 410.7 582.9C417.4 585.3 425.5 587.7 433.4 589.4C441.2 591 450.6 591.5 457.7 592.6C464.7 593.7 471.1 594.2 475.5 595.8C479.8 597.4 482.5 599.1 483.6 602.3C484.6 605.5 482.9 608.8 481.9 615.3C481 621.7 478.6 634.4 477.9 641.2C477.2 647.9 477.9 653.3 477.9 655.7L1300 900L1300 400Z" fill="#8DC653" stroke="#2b2b20" stroke-width="0.45" stroke-dasharray="3 0.8"/>
<path d="M184.1 510C184.1 512.4 184 520.5 184.1 524.6C184.2 528.6 182.9 530.8 184.9 534.3C186.9 537.8 191.7 541.6 196.3 545.6C200.8 549.7 207.1 555.1 212.4 558.6C217.8 562.1 223.8 565.3 228.6 566.7C233.5 568 237.3 567.8 241.6 566.7C245.9 565.6 250.5 563.4 254.6 560.2C258.6 557 262.9 551.8 265.9 547.2C268.9 542.7 270.9 537.1 272.4 532.7C273.9 528.2 274.4 524.3 274.8 520.5C275.2 516.7 274.8 511.8 274.8 510Z" fill="#B9D54C" stroke="#2b2b20" stroke-width="0.45" stroke-dasharray="3 0.8"/>
<path d="M284.5 510C284.5 511.8 284.1 517 284.5 520.5C284.9 524 285.2 527.4 286.9 531.1C288.7 534.7 291.5 538.9 295 542.4C298.5 545.9 303.8 549.4 308 552.1C312.2 554.8 315.8 556.7 320 558.6C324.2 560.5 328.1 562.9 333 563.4C337.8 564 344.3 562.8 349.1 561.8C354 560.9 357.8 558.4 362.1 557.8C366.4 557.1 370.7 556.8 375.1 557.8C379.4 558.7 383.7 561.4 388 563.4C392.3 565.5 396.7 568.4 401 569.9C405.3 571.4 410.1 571 413.9 572.3C417.7 573.7 417.7 576.4 423.6 578C429.6 579.6 439.8 581 449.6 582.1C459.3 583.1 472.5 584.9 481.9 584.5C491.4 584.1 501 580.4 506.2 579.6C511.5 578.8 512.2 578.3 513.5 579.6C514.9 581 515.5 583.1 514.3 587.7C513.1 592.3 509.5 600.7 506.2 607.2C503 613.6 497.2 620.7 494.9 626.6C492.6 632.5 492.9 637.9 492.5 642.8C492.1 647.7 492.5 653.6 492.5 655.7L1300 900L1300 400Z" fill="#B9D54C" stroke="#2b2b20" stroke-width="0.45" stroke-dasharray="3 0.8"/>
<path d="M223.8 510C223.8 511.8 224.3 517 223.8 520.5C223.2 524 221.5 528.2 220.5 531.1C219.6 533.9 217.3 534.8 218.1 537.5C218.9 540.2 222.6 544.8 225.4 547.2C228.2 549.7 232.2 552.2 235.1 552.4C238.1 552.7 241.2 550.8 243.2 548.9C245.2 546.9 246.6 545.5 247.3 540.8C247.9 536 247.3 525.7 247.3 520.5C247.3 515.4 247.3 511.8 247.3 510Z" fill="#F6EA4C" stroke="#2b2b20" stroke-width="0.45" stroke-dasharray="3 0.8"/>
<path d="M321.8 510C321.8 511.8 322 516.5 321.8 520.5C321.5 524.6 320.4 531.2 320.1 534.3C319.8 537.4 318.7 536.7 320 539.1C321.3 541.6 324.6 546.8 328.1 548.9C331.6 550.9 336.2 551.3 341.1 551.3C345.9 551.3 351.6 549.3 357.2 548.9C362.9 548.5 370.5 547.8 375.1 548.9C379.6 549.9 381 552.9 384.8 555.3C388.6 557.8 392.3 561.3 397.7 563.4C403.1 565.6 409.6 567 417.2 568.3C424.7 569.6 435 570.3 443.1 571.5C451.2 572.8 459.3 574.6 465.7 575.6C472.2 576.5 477.1 577.2 481.9 577.2C486.8 577.2 491.4 577.9 494.9 575.6C498.4 573.3 501.1 566.5 503 563.4C504.9 560.3 505.4 560.5 506.2 557C507 553.5 507.6 544.8 507.9 542.4Z" fill="#F6EA4C" stroke="#2b2b20" stroke-width="0.45" stroke-dasharray="3 0.8"/>
<path d="M543.4 549.7C543.4 551.5 544.5 556.7 543.4 560.2C542.4 563.8 539.7 566.9 537 570.8C534.3 574.7 530.5 578.9 527.2 583.7C524 588.6 520.2 594.3 517.5 599.9C514.8 605.6 512.4 610.4 511.1 617.7C509.7 625 509.7 636.4 509.4 643.6C509.2 650.9 509.4 658.5 509.4 661.5L1300 900L1300 400Z" fill="#F6EA4C" stroke="#2b2b20" stroke-width="0.45" stroke-dasharray="3 0.8"/>
<path d="M554.8 663.1C555 660.5 554.5 651.7 556.4 647.7C558.3 643.6 562.1 641.2 566.1 638.8C570.2 636.4 575.8 634.2 580.7 633.1C585.5 632 590.9 631.4 595.3 632.3C599.6 633.3 603.6 636.1 606.6 638.8C609.6 641.5 611.2 645.3 613.1 648.5C615 651.7 616.9 654.7 617.9 658.2C619 661.7 619.3 667.7 619.6 669.6Z" fill="#B9D54C" stroke="#2b2b20" stroke-width="0.45" stroke-dasharray="3 0.8"/>
<path d="M556.4 556.2C556.4 556.7 556.4 563.8 556.7 564.3C557 564.8 560.8 564.1 561.3 564.3C561.7 564.5 563.3 567.7 563.7 567.9C564.1 568 567.1 567.5 567.4 566.7C567.7 565.9 567.7 556.9 567.7 556.2Z" fill="#B9D54C" stroke="#2b2b20" stroke-width="0.45" stroke-dasharray="3 0.8"/>
<path d="M528.9 611.3C528.3 607.2 528.9 602.2 530.5 598.3C532.1 594.4 535.3 590.1 538.6 587.8C541.8 585.5 546.4 584.4 549.9 584.5C553.4 584.7 557.1 586 559.6 588.6C562.2 591.1 564.5 596.1 565.3 599.9C566.1 603.7 565.7 607.7 564.5 611.3C563.3 614.8 561.3 618.4 558 621C554.8 623.5 549.1 626.4 545.1 626.6C541 626.9 536.4 625.2 533.7 622.6C531 620 529.4 615.3 528.9 611.3Z" fill="#F9CC40" stroke="#2b2b20" stroke-width="0.45" stroke-dasharray="3 0.8"/>
<path d="M390.9 520.2C390.9 522.1 390.4 527.4 390.9 531.6C391.3 535.8 391.5 541.2 393.4 545.4C395.3 549.6 398.2 553.8 402.2 556.8C406.2 559.7 412.3 562.9 417.3 563.1C422.4 563.3 428.9 560.6 432.4 558C436 555.5 437.3 553 438.7 548C440.2 542.9 440.8 531.2 441.3 527.8Z" fill="#F9CC40" stroke="#2b2b20" stroke-width="0.45" stroke-dasharray="3 0.8"/>
<path d="M592 549.7C592 551.3 592 558.2 592 561.9C592 565.5 591.2 573.9 592 577.2C592.9 580.6 596.1 584.8 598.5 587C600.9 589.1 607 591.1 609.8 593.4C612.6 595.8 617.2 601.1 619.6 604.8C621.9 608.4 625.5 616.7 627.7 621C629.8 625.3 633.4 633.1 635.7 637.2C638.1 641.3 643.1 648.3 645.5 651.7C647.8 655.2 652.3 659.6 653.6 663.1C654.9 666.5 655 675.7 655.2 677.7L1300 900L1300 400Z" fill="#F9CC40" stroke="#2b2b20" stroke-width="0.45" stroke-dasharray="3 0.8"/>
<path d="M398.4 520.2C398.4 522.7 398 530.2 398.4 534.9C398.8 539.5 399.1 544.7 400.9 548C402.8 551.2 406.2 553.6 409.8 554.3C413.3 554.9 419.2 553.6 422.4 551.7C425.5 549.8 427 546.9 428.7 542.9C430.3 538.9 431.8 530.3 432.4 527.8Z" fill="#F09B38" stroke="#2b2b20" stroke-width="0.45" stroke-dasharray="3 0.8"/>
<path d="M640.6 564.3C640.6 566.6 641.3 577.8 640.6 581.3C640 584.8 636.5 587.5 635.7 590.2C635 592.9 634.3 598.5 634.9 601.5C635.6 604.6 638.6 609.6 640.6 612.9C642.7 616.1 647.5 622.8 650.3 625.8C653.1 628.9 658.2 633.5 661.7 635.5C665.1 637.6 673.8 640.3 676.2 641.2C678.7 642.2 678.4 642.8 680 642.6C681.6 642.3 685.9 640.9 688.1 639.4C690.3 637.8 694.7 634.1 696.2 631.3C697.7 628.4 698.4 621.1 699.4 618.3C700.5 615.5 702.6 611.7 704.3 610.2C706 608.7 709.6 607.2 712.4 607C715.2 606.7 721.5 607.9 725.3 608.6C729.2 609.2 737.2 611.2 741.5 611.8C745.9 612.5 754.3 612.8 757.7 613.4C761.2 614.1 765.8 615.4 767.4 616.7C769.1 618 770.7 620.8 769.9 623.2C769 625.5 763 631.3 761 634.5C758.9 637.7 754.9 644 754.5 647.4C754.1 650.9 756 657.2 757.7 660.4C759.5 663.6 764.9 669.1 767.4 671.7C770 674.3 774.6 677.7 777.2 679.8C779.8 682 784.7 685.6 786.9 687.9C789 690.3 792.5 696.4 793.4 697.7L803.1 697.7C803.5 696.4 804.4 690.3 806.3 687.9C808.3 685.6 813.8 682 817.7 679.8C821.5 677.7 830.5 673.6 835.5 671.7C840.4 669.9 850.6 666.7 854.9 666.1C859.2 665.4 865.9 666.6 867.9 666.9C869.8 667.1 867.5 666.8 869.7 668C871.9 669.2 880 674.2 884.3 676.1C888.6 678.1 897.1 681.8 902.1 682.6C907.1 683.3 916.8 683.1 921.5 681.8C926.3 680.5 933.8 675.5 937.7 672.9C941.6 670.3 947.2 664.3 950.7 662.3C954.1 660.4 960.8 658.5 963.6 658.3C966.5 658.1 969.6 658.8 971.7 660.7C973.9 662.7 977.5 669.5 979.8 672.9C982.2 676.2 986.1 682.2 989.6 685.8C993 689.5 1001.7 697.5 1005.7 700.4C1009.8 703.3 1016.3 705.3 1020 707.3C1023.7 709.3 1029.8 713 1033.4 715.3C1037 717.6 1043.2 723 1046.8 724.7C1050.4 726.4 1056.3 727.4 1060.2 728C1064.1 728.6 1073 727.4 1076.2 729C1079.4 730.6 1083 738.5 1084 740L1105 730C1106.3 727.6 1112.1 715.9 1115 712C1117.9 708.1 1125.2 703.4 1127.1 700.6C1129 697.8 1129.1 693.5 1129.1 691.2C1129.1 688.9 1128.3 685.5 1127.1 683.2C1125.9 680.9 1121.4 676.9 1120.4 673.8C1119.4 670.7 1119.8 664.3 1119.7 659.8C1119.6 655.3 1119.7 642.6 1119.7 640Z" fill="#F09B38" stroke="#2b2b20" stroke-width="0.45" stroke-dasharray="3 0.8"/>
<path d="M661.7 559.4C661.3 561.1 660.5 568.6 659.2 571.6C657.9 574.6 653.6 579.1 651.9 581.8C650.3 584.5 647.8 589 647.1 591.8C646.3 594.7 645.6 600.4 646.3 603.2C646.9 606 649.9 610.6 651.9 612.9C654 615.1 658.9 618.9 661.7 620.2C664.5 621.5 670.2 622.9 673 622.6C675.8 622.3 681.1 619.6 682.7 617.7C684.3 615.9 683.5 610.9 684.9 608.6C686.2 606.3 690.1 602.1 693 600.5C695.8 598.9 702.5 597 705.9 596.4C709.4 595.9 715.8 595.9 718.9 596.4C721.9 597 726.2 599.7 728.6 600.5C731 601.2 734.1 602.3 736.7 602.1C739.3 601.9 744.8 599.9 748 598.9C751.3 597.8 758.2 595.4 761 594C763.8 592.6 767.8 591.1 769.1 588.3C770.4 585.5 770.5 575 770.7 573Z" fill="#E96F31" stroke="#2b2b20" stroke-width="0.45" stroke-dasharray="3 0.8"/>
<path d="M781.7 579.4C781.7 581.2 781.8 588.5 782 592.4C782.3 596.3 784.1 604.3 783.6 608.6C783.2 612.9 779.6 620.5 778.8 624.8C777.9 629.1 777 637.3 777.2 641C777.4 644.6 778.5 649.8 780.4 652.3C782.3 654.8 788.3 658.5 791.7 659.6C795.2 660.7 802.2 660.9 806.3 660.4C810.4 659.9 818.2 657.5 822.5 655.5C826.8 653.6 835.5 648.9 838.7 645.8C841.9 642.8 845.4 636.8 846.8 632.9C848.2 629 849 620.1 849.2 616.7C849.4 613.2 848.5 610.6 848.4 607C848.3 603.3 848.4 591.5 848.4 589.1Z" fill="#E96F31" stroke="#2b2b20" stroke-width="0.45" stroke-dasharray="3 0.8"/>
<path d="M881.9 606.5C881.9 608.1 881.5 615.2 881.9 618.6C882.2 622.1 883.1 628.4 884.3 632.4C885.5 636.4 888.6 644.7 890.8 648.6C892.9 652.5 897.7 659.1 900.5 661.5C903.3 664 908.2 666.6 911.8 667.2C915.5 667.9 923.9 667.6 928 666.4C932.1 665.2 939.1 660.7 942.6 658.3C946 655.9 950.9 651.5 953.9 648.6C957 645.7 963.4 640.3 965.3 636.4C967.1 632.6 967.4 621.7 967.7 619.4Z" fill="#E96F31" stroke="#2b2b20" stroke-width="0.45" stroke-dasharray="3 0.8"/>
<path d="M975.8 624.3C975.8 626.5 975.2 636.4 975.8 640.5C976.3 644.6 978.2 651.2 979.8 655.1C981.5 658.9 985.3 666 987.9 669.6C990.5 673.3 995.6 679.8 999.3 682.6C1002.9 685.4 1010.9 689.2 1015.5 690.7C1020 692.2 1029.2 692 1033.4 693.9C1037.6 695.8 1043.2 702.2 1046.8 704.6C1050.4 707 1056.3 710.6 1060.2 712C1064.1 713.4 1071.9 715 1076.2 715.3C1080.5 715.6 1088.4 715.1 1092.3 714C1096.2 712.9 1103 709.4 1105.7 707.3C1108.4 705.2 1111.7 700.8 1112.4 697.9C1113.1 695 1111.9 689.1 1111 685.9C1110.1 682.7 1106.9 677.3 1105.7 673.8C1104.5 670.3 1102.8 664.3 1102.3 659.8C1101.8 655.3 1102 642.6 1102 640Z" fill="#E96F31" stroke="#2b2b20" stroke-width="0.45" stroke-dasharray="3 0.8"/>
<path d="M675.5 568C675.6 568.4 679.2 579.8 679.5 579.8C679.8 579.8 684.6 568.4 684.8 568Z" fill="#F09B38" stroke="#2b2b20" stroke-width="0.45" stroke-dasharray="3 0.8"/>
<path d="M1065.5 640C1065.5 642 1065.7 650.4 1065.5 655.1C1065.3 659.8 1064 671.1 1064.2 675.2C1064.4 679.3 1065.7 683.6 1066.9 685.9C1068.1 688.2 1071.5 691.5 1073.5 692.6C1075.5 693.7 1079.6 694.3 1081.6 693.9C1083.6 693.5 1087 691.7 1088.3 689.9C1089.6 688.1 1090.9 685.1 1091 680.5C1091.1 675.9 1089.3 660.5 1089 655.1C1088.7 649.7 1089 642 1089 640Z" fill="#E5582F" stroke="#2b2b20" stroke-width="0.45" stroke-dasharray="3 0.8"/>
<path d="M1040.7 653C1041.8 653 1043.3 654.5 1044 656C1044.7 657.5 1044.8 660.1 1044.7 662C1044.6 663.9 1044.2 666.3 1043.5 667.5C1042.8 668.7 1041.6 669.3 1040.7 669.3C1039.8 669.3 1038.7 668.7 1038 667.5C1037.3 666.3 1036.8 663.9 1036.7 662C1036.6 660.1 1036.8 657.5 1037.5 656C1038.2 654.5 1039.6 653 1040.7 653Z" fill="#F09B38" stroke="#2b2b20" stroke-width="0.45" stroke-dasharray="3 0.8"/>
<path d="M908.6 739.3C908.6 736.2 908.2 717.1 908.6 713.4C909 709.6 909.6 708.4 911.8 706.9C914.1 705.4 924.2 702.1 928 700.4C931.8 698.7 940.8 693.9 944.2 692.3C947.6 690.7 954.7 687.2 957.2 686.6C959.6 686.1 963 686.2 965.3 687.4C967.5 688.7 973.8 694.7 976.6 697.2C979.4 699.6 986.7 706 989.6 708.5C992.4 711 998.5 716.2 1000.9 718.2C1003.3 720.2 1008.5 723 1009.8 725.5C1011.1 728 1011.9 737.7 1012.2 739.3Z" fill="#F6EA4C" stroke="#2b2b20" stroke-width="0.45" stroke-dasharray="3 0.8"/>
</g>
<path d="M556.9 564.6C555.1 569.4 549.9 584.6 546.4 593.4C542.8 602.3 539.5 609.6 535.7 617.7C531.8 625.8 525.3 638 523.2 642" fill="none" stroke="#2e3030" stroke-opacity="0.78" stroke-width="2.2"/>
<path d="M668.1 574.8C671.7 581.5 684.2 604.8 689.7 615.1C695.2 625.3 697.3 630.2 701.1 636.1C704.8 642.1 708.3 645.2 712.4 650.7C716.4 656.2 723.2 666.2 725.3 669.3" fill="none" stroke="#2e3030" stroke-opacity="0.78" stroke-width="2.3" stroke-dasharray="17 6"/>
<path d="M812.8 601.3C810.6 605.2 804.2 616.3 799.8 624.8C795.5 633.3 791.5 643.3 786.9 652.3C782.3 661.3 774.7 674.6 772.3 679" fill="none" stroke="#2e3030" stroke-opacity="0.78" stroke-width="2.3" stroke-dasharray="17 6"/>
<text x="35.5" y="32.7" font-size="23" fill="#2E3F8F" font-weight="bold" text-anchor="start" textLength="597.5" lengthAdjust="spacingAndGlyphs" stroke="#fff" stroke-width="0.25">IP Line 14 Vertical Section - Resistivity &amp; Chargeability</text>
<path d="M833.6 34.4L836.9 43.8L846.8 44L838.9 50L841.8 59.5L833.6 53.9L825.4 59.5L828.3 50L820.4 44L830.3 43.8Z" fill="#F5EB3E" stroke="#2a2a1a" stroke-width="1.1" stroke-linejoin="miter"/>
<path d="M833.7 72.1L843.3 88.6L824 88.6Z" fill="#2B3990"/>
<path d="M819.7 123Q834 115.5 848.4 104.2" stroke="#666" stroke-width="2.3" fill="none"/>
<path d="M821 159.8L829.6 155.1M836.3 151.2L850 141.8" stroke="#666" stroke-width="2.3" fill="none"/>
<text x="869.6" y="58.1" font-size="25" fill="#231F20" font-weight="normal" text-anchor="start" textLength="370.8" lengthAdjust="spacingAndGlyphs">Select historical rock grab samples</text>
<text x="870.3" y="88.5" font-size="25" fill="#231F20" font-weight="normal" text-anchor="start" textLength="325.7" lengthAdjust="spacingAndGlyphs">Select 2022 rock grab samples</text>
<text x="872.2" y="122.5" font-size="25" fill="#231F20" font-weight="normal" text-anchor="start" textLength="266.4" lengthAdjust="spacingAndGlyphs">Mapped shear structures</text>
<text x="875.1" y="156.9" font-size="25" fill="#231F20" font-weight="normal" text-anchor="start" textLength="235.8" lengthAdjust="spacingAndGlyphs">Interpreted structures</text>
<text x="54.5" y="260.9" font-size="17.6" fill="#231F20" font-weight="normal" text-anchor="start" textLength="38.9" lengthAdjust="spacingAndGlyphs">1400</text>
<path d="M102.4 254H120" stroke="#bdbdbd" stroke-width="1.4"/>
<text x="54.5" y="334.8" font-size="17.6" fill="#231F20" font-weight="normal" text-anchor="start" textLength="38.9" lengthAdjust="spacingAndGlyphs">1200</text>
<path d="M102.4 328.6H120" stroke="#bdbdbd" stroke-width="1.4"/>
<text x="54.5" y="408.7" font-size="17.6" fill="#231F20" font-weight="normal" text-anchor="start" textLength="38.9" lengthAdjust="spacingAndGlyphs">1000</text>
<path d="M102.4 402.2H120" stroke="#bdbdbd" stroke-width="1.4"/>
<text x="51.9" y="570.9" font-size="17.6" fill="#231F20" font-weight="normal" text-anchor="start" textLength="38.2" lengthAdjust="spacingAndGlyphs">1400</text>
<path d="M100.5 564H120" stroke="#bdbdbd" stroke-width="1.4"/>
<text x="51.9" y="644.8" font-size="17.6" fill="#231F20" font-weight="normal" text-anchor="start" textLength="38.2" lengthAdjust="spacingAndGlyphs">1200</text>
<path d="M100.5 638.3H120" stroke="#bdbdbd" stroke-width="1.4"/>
<text x="51.9" y="718.3" font-size="17.6" fill="#231F20" font-weight="normal" text-anchor="start" textLength="38.2" lengthAdjust="spacingAndGlyphs">1000</text>
<path d="M100.5 712.2H120" stroke="#bdbdbd" stroke-width="1.4"/>
<text x="0" y="0" font-size="17.6" fill="#231F20" font-weight="normal" text-anchor="start" textLength="131.3" lengthAdjust="spacingAndGlyphs" transform="translate(34 391.5) rotate(-90)">Elevation (m asl)</text>
<text x="0" y="0" font-size="17.6" fill="#231F20" font-weight="normal" text-anchor="start" textLength="130.3" lengthAdjust="spacingAndGlyphs" transform="translate(30.8 700.5) rotate(-90)">Elevation (m asl)</text>
<text x="106.3" y="183.4" font-size="24.5" fill="#231F20" font-weight="bold" text-anchor="start" textLength="52.5" lengthAdjust="spacingAndGlyphs" stroke="#fff" stroke-width="0.25">West</text>
<text x="103.7" y="491.4" font-size="24.5" fill="#231F20" font-weight="bold" text-anchor="start" textLength="52.9" lengthAdjust="spacingAndGlyphs" stroke="#fff" stroke-width="0.25">West</text>
<text x="1136.2" y="317.8" font-size="24.5" fill="#231F20" font-weight="bold" text-anchor="start" textLength="44.7" lengthAdjust="spacingAndGlyphs" stroke="#fff" stroke-width="0.25">East</text>
<text x="1134.6" y="627.8" font-size="24.5" fill="#231F20" font-weight="bold" text-anchor="start" textLength="44.5" lengthAdjust="spacingAndGlyphs" stroke="#fff" stroke-width="0.25">East</text>
<text x="836.9" y="235.7" font-size="24.5" fill="#231F20" font-weight="bold" text-anchor="start" textLength="227.3" lengthAdjust="spacingAndGlyphs" stroke="#fff" stroke-width="0.25">Topographic surface</text>
<text x="502.3" y="370.6" font-size="24.5" fill="#231F20" font-weight="bold" text-anchor="start" textLength="163.7" lengthAdjust="spacingAndGlyphs" stroke="#fff" stroke-width="0.25">high resistivity</text>
<text x="572.6" y="528.3" font-size="24.5" fill="#231F20" font-weight="bold" text-anchor="start" textLength="202.8" lengthAdjust="spacingAndGlyphs" stroke="#fff" stroke-width="0.25">high chargeability</text>
<text x="183.4" y="405.5" font-size="24.5" fill="#B02A3A" font-weight="bold" text-anchor="start" textLength="363.5" lengthAdjust="spacingAndGlyphs" stroke="#fff" stroke-width="0.25">potential new exploration target</text>
<text x="205.9" y="435.7" font-size="24.5" fill="#B02A3A" font-weight="bold" text-anchor="start" textLength="317.6" lengthAdjust="spacingAndGlyphs" stroke="#fff" stroke-width="0.25">tested by 2022 soil sampling</text>
<text x="808.5" y="434.6" font-size="24.5" fill="#B02A3A" font-weight="bold" text-anchor="start" textLength="237.4" lengthAdjust="spacingAndGlyphs" stroke="#fff" stroke-width="0.25">coincident &gt;300 ppm</text>
<text x="802.3" y="465" font-size="24.5" fill="#B02A3A" font-weight="bold" text-anchor="start" textLength="249.8" lengthAdjust="spacingAndGlyphs" stroke="#fff" stroke-width="0.25">historical soil anomaly</text>
<text x="792.9" y="496.3" font-size="24.5" fill="#B02A3A" font-weight="bold" text-anchor="start" textLength="267.9" lengthAdjust="spacingAndGlyphs" stroke="#fff" stroke-width="0.25">with 750m strike-length</text>
<text x="354" y="620.1" font-size="24.5" fill="#B02A3A" font-weight="normal" text-anchor="start" textLength="113.4" lengthAdjust="spacingAndGlyphs">West Zone</text>
<text x="526.8" y="704.4" font-size="24.5" fill="#B02A3A" font-weight="normal" text-anchor="start" textLength="134.3" lengthAdjust="spacingAndGlyphs">~250 metres</text>
<text x="534.6" y="738.4" font-size="24.5" fill="#B02A3A" font-weight="normal" text-anchor="start" textLength="136.9" lengthAdjust="spacingAndGlyphs">Central Zone</text>
<rect x="360.8" y="189.3" width="98.7" height="83.5" fill="none" stroke="#B02A3A" stroke-width="1.8"/>
<rect x="724.4" y="273" width="115.1" height="113.9" fill="none" stroke="#B02A3A" stroke-width="1.8"/>
<rect x="360.6" y="502.6" width="98.6" height="83" fill="none" stroke="#B02A3A" stroke-width="1.8"/>
<rect x="724.4" y="580.5" width="115.1" height="114.1" fill="none" stroke="#B02A3A" stroke-width="1.8"/>
<path d="M541.6 643.5V679M654.8 643.5V679M541.6 661H654.8" stroke="#B02A3A" stroke-width="1.9" fill="none"/>
<rect x="422.1" y="80.7" width="113.4" height="69.8" rx="8.5" fill="#fff" stroke="#B02A3A" stroke-width="1.8"/>
<rect x="628.6" y="69.7" width="102.8" height="68.7" rx="8.5" fill="#fff" stroke="#B02A3A" stroke-width="1.8"/>
<rect x="651.2" y="154.8" width="111" height="68.5" rx="8.5" fill="#fff" stroke="#B02A3A" stroke-width="1.8"/>
<rect x="705.4" y="235.8" width="88.4" height="28.9" rx="7" fill="#fff" stroke="#4A8FD0" stroke-width="2"/>
<text x="441.1" y="97.3" font-size="17.6" fill="#231F20" font-weight="normal" text-anchor="start" textLength="74.2" lengthAdjust="spacingAndGlyphs">4.31% Cu</text>
<text x="430.4" y="120.5" font-size="17.6" fill="#231F20" font-weight="normal" text-anchor="start" textLength="96.2" lengthAdjust="spacingAndGlyphs">14.15 g/t Au</text>
<text x="433.9" y="144.1" font-size="17.6" fill="#231F20" font-weight="normal" text-anchor="start" textLength="87.5" lengthAdjust="spacingAndGlyphs">63.1 g/t Ag</text>
<text x="643.9" y="86.3" font-size="17.6" fill="#231F20" font-weight="normal" text-anchor="start" textLength="73.3" lengthAdjust="spacingAndGlyphs">1.61% Cu</text>
<text x="636.1" y="109.7" font-size="17.6" fill="#231F20" font-weight="normal" text-anchor="start" textLength="88.1" lengthAdjust="spacingAndGlyphs">6.38 g/t Au</text>
<text x="636.5" y="132.6" font-size="17.6" fill="#231F20" font-weight="normal" text-anchor="start" textLength="87.7" lengthAdjust="spacingAndGlyphs">29.3 g/t Ag</text>
<text x="669.2" y="171.2" font-size="17.6" fill="#231F20" font-weight="normal" text-anchor="start" textLength="74.1" lengthAdjust="spacingAndGlyphs">2.77% Cu</text>
<text x="662.6" y="194.6" font-size="17.6" fill="#231F20" font-weight="normal" text-anchor="start" textLength="88" lengthAdjust="spacingAndGlyphs">3.94 g/t Au</text>
<text x="657.6" y="217.4" font-size="17.6" fill="#231F20" font-weight="normal" text-anchor="start" textLength="98.2" lengthAdjust="spacingAndGlyphs">37.21 g/t Ag</text>
<text x="714" y="254.5" font-size="17.6" fill="#231F20" font-weight="normal" text-anchor="start" textLength="73.7" lengthAdjust="spacingAndGlyphs">3.86% Cu</text>
<path d="M510 150.5L562.4 231.1" stroke="#231F20" stroke-width="1.8" fill="none"/>
<path d="M569.5 242L556.3 232.7L566.4 226.2Z" fill="#231F20"/>
<path d="M647.5 139.5L614.6 226.7" stroke="#231F20" stroke-width="1.8" fill="none"/>
<path d="M610 238.9L609.7 222.7L620.9 227Z" fill="#231F20"/>
<path d="M651.2 223.5L640.1 237" stroke="#231F20" stroke-width="1.8" fill="none"/>
<path d="M632.5 246.3L637.1 232L645.6 239Z" fill="#231F20"/>
<path d="M704.8 251.2L692.5 255.5" stroke="#231F20" stroke-width="1.8" fill="none"/>
<path d="M681.2 259.4L692.6 249.6L696.2 260Z" fill="#231F20"/>
<path d="M573.4 347L592.5 291.6" stroke="#231F20" stroke-width="1.8" fill="none"/>
<path d="M596.7 279.3L597.5 295.4L586.1 291.5Z" fill="#231F20"/>
<path d="M900.3 255.4L877.8 286.5" stroke="#231F20" stroke-width="1.8" fill="none"/>
<path d="M870.2 297L874.1 281.3L883.9 288.4Z" fill="#231F20"/>
<path d="M697.3 540.4L695.5 571.5" stroke="#231F20" stroke-width="1.8" fill="none"/>
<path d="M694.8 584.5L689.7 569.2L701.6 569.9Z" fill="#231F20"/>
<path d="M388 375.5L410.1 296.4" stroke="#B02A3A" stroke-width="1.6" fill="none"/>
<path d="M413.3 284.8L414.8 299.8L404.2 296.8Z" fill="#B02A3A"/>
<path d="M387.5 451.8L396.3 477.4" stroke="#B02A3A" stroke-width="1.6" fill="none"/>
<path d="M400.2 488.8L390.5 477.3L400.9 473.8Z" fill="#B02A3A"/>
<path d="M873.6 402L857.3 370.1" stroke="#B02A3A" stroke-width="1.6" fill="none"/>
<path d="M851.8 359.4L863.1 369.4L853.3 374.4Z" fill="#B02A3A"/>
<path d="M853.5 516.4L828.9 562.5" stroke="#B02A3A" stroke-width="1.6" fill="none"/>
<path d="M823.2 573.1L824.9 558.2L834.6 563.3Z" fill="#B02A3A"/>
<path d="M576.4 236.9L586 253.8L566.6 253.8Z" fill="#2B3990"/>
<path d="M605.9 240.5L615.3 256.9L596.3 256.9Z" fill="#2B3990" stroke="#fff" stroke-width="0.5"/>
<path d="M622.9 242.2L632.5 258.6L613.7 258.6Z" fill="#2B3990" stroke="#fff" stroke-width="0.5"/>
<path d="M658.3 245.3L661.5 254.6L671.3 254.8L663.5 260.7L666.4 270.1L658.3 264.5L650.2 270.1L653.1 260.7L645.3 254.8L655.1 254.6Z" fill="#F5EB3E" stroke="#2a2a1a" stroke-width="1.1" stroke-linejoin="miter"/>
<path d="M573.4 547.3L583.1 563.5L564.2 563.5Z" fill="#2B3990"/>
<path d="M602.9 549.9L612.2 566.7L593.3 566.7Z" fill="#2B3990" stroke="#fff" stroke-width="0.5"/>
<path d="M619.7 552.1L629 569L610.3 569Z" fill="#2B3990" stroke="#fff" stroke-width="0.5"/>
<path d="M650.9 554.8L654.1 564L663.8 564.2L656.1 570.1L658.9 579.4L650.9 573.8L642.9 579.4L645.7 570.1L638 564.2L647.7 564Z" fill="#F5EB3E" stroke="#2a2a1a" stroke-width="1.1" stroke-linejoin="miter"/>
<rect x="1198.5" y="195.8" width="16.7" height="21.8" fill="#8A5A2A"/>
<rect x="1198.5" y="217.3" width="16.7" height="21.8" fill="#B37C37"/>
<rect x="1198.5" y="238.9" width="16.7" height="21.8" fill="#CBA05C"/>
<rect x="1198.5" y="260.4" width="16.7" height="21.8" fill="#E2CB90"/>
<rect x="1198.5" y="281.9" width="16.7" height="21.8" fill="#F1E5C3"/>
<rect x="1198.5" y="303.5" width="16.7" height="21.8" fill="#FBF8CB"/>
<rect x="1198.5" y="325" width="16.7" height="21.8" fill="#F5F3B6"/>
<rect x="1198.5" y="346.5" width="16.7" height="21.8" fill="#E4EAA2"/>
<rect x="1198.5" y="368.1" width="16.7" height="21.8" fill="#C0DDA9"/>
<rect x="1198.5" y="389.6" width="16.7" height="21.8" fill="#93CDAC"/>
<rect x="1198.5" y="411.1" width="16.7" height="21.8" fill="#60B0AC"/>
<rect x="1198.5" y="432.7" width="16.7" height="21.8" fill="#3A80C2"/>
<rect x="1198.5" y="195.8" width="16.7" height="258.4" fill="none" stroke="#8a8f9a" stroke-width="0.7"/>
<text x="1216.6" y="220.1" font-size="9" fill="#231F20" font-weight="normal" text-anchor="start">2000</text>
<text x="1216.6" y="241.7" font-size="9" fill="#231F20" font-weight="normal" text-anchor="start">1500</text>
<text x="1216.6" y="263.2" font-size="9" fill="#231F20" font-weight="normal" text-anchor="start">1000</text>
<text x="1216.6" y="284.7" font-size="9" fill="#231F20" font-weight="normal" text-anchor="start">700</text>
<text x="1216.6" y="306.3" font-size="9" fill="#231F20" font-weight="normal" text-anchor="start">500</text>
<text x="1216.6" y="327.8" font-size="9" fill="#231F20" font-weight="normal" text-anchor="start">300</text>
<text x="1216.6" y="349.3" font-size="9" fill="#231F20" font-weight="normal" text-anchor="start">200</text>
<text x="1216.6" y="370.9" font-size="9" fill="#231F20" font-weight="normal" text-anchor="start">150</text>
<text x="1216.6" y="392.4" font-size="9" fill="#231F20" font-weight="normal" text-anchor="start">100</text>
<text x="1216.6" y="413.9" font-size="9" fill="#231F20" font-weight="normal" text-anchor="start">70</text>
<text x="1216.6" y="435.5" font-size="9" fill="#231F20" font-weight="normal" text-anchor="start">50</text>
<path d="M1198.5 260.4H1215.2" stroke="#5a5a40" stroke-width="0.6"/>
<path d="M1198.5 303.5H1215.2" stroke="#5a5a40" stroke-width="0.6"/>
<path d="M1198.5 325H1215.2" stroke="#5a5a40" stroke-width="0.6"/>
<path d="M1198.5 368.1H1215.2" stroke="#5a5a40" stroke-width="0.6"/>
<path d="M1198.5 389.6H1215.2" stroke="#5a5a40" stroke-width="0.6"/>
<text x="1189.3" y="169.3" font-size="11.6" fill="#231F20" font-weight="normal" text-anchor="start" textLength="56.3" lengthAdjust="spacingAndGlyphs">Resistivity</text>
<text x="1203.7" y="184" font-size="11.6" fill="#231F20" font-weight="normal" text-anchor="start" textLength="28.2" lengthAdjust="spacingAndGlyphs">(Ωm)</text>
<rect x="1207.5" y="505.8" width="15.7" height="17.5" fill="#E2432F"/>
<rect x="1207.5" y="523" width="15.7" height="17.5" fill="#E5582F"/>
<rect x="1207.5" y="540.3" width="15.7" height="17.5" fill="#E96F31"/>
<rect x="1207.5" y="557.5" width="15.7" height="17.5" fill="#F09B38"/>
<rect x="1207.5" y="574.8" width="15.7" height="17.5" fill="#F9CC40"/>
<rect x="1207.5" y="592" width="15.7" height="17.5" fill="#F6EA4C"/>
<rect x="1207.5" y="609.3" width="15.7" height="17.5" fill="#B9D54C"/>
<rect x="1207.5" y="626.5" width="15.7" height="17.5" fill="#8DC653"/>
<rect x="1207.5" y="643.8" width="15.7" height="17.5" fill="#7CC254"/>
<rect x="1207.5" y="661" width="15.7" height="17.5" fill="#4BAA60"/>
<rect x="1207.5" y="678.3" width="15.7" height="17.5" fill="#2257A8"/>
<rect x="1207.5" y="695.5" width="15.7" height="17.5" fill="#3F4FA3"/>
<rect x="1207.5" y="712.8" width="15.7" height="17.5" fill="#4B4DA5"/>
<rect x="1207.5" y="730" width="15.7" height="17.5" fill="#6353A6"/>
<rect x="1207.5" y="747.3" width="15.7" height="17.5" fill="#7B62AB"/>
<rect x="1207.5" y="505.8" width="15.7" height="258.7" fill="none" stroke="#8a8f9a" stroke-width="0.7"/>
<text x="1225.3" y="525.8" font-size="9" fill="#231F20" font-weight="normal" text-anchor="start">50</text>
<text x="1225.3" y="543.1" font-size="9" fill="#231F20" font-weight="normal" text-anchor="start">40</text>
<text x="1225.3" y="560.3" font-size="9" fill="#231F20" font-weight="normal" text-anchor="start">30</text>
<text x="1225.3" y="577.6" font-size="9" fill="#231F20" font-weight="normal" text-anchor="start">25</text>
<text x="1225.3" y="594.8" font-size="9" fill="#231F20" font-weight="normal" text-anchor="start">20</text>
<text x="1225.3" y="612.1" font-size="9" fill="#231F20" font-weight="normal" text-anchor="start">15</text>
<text x="1225.3" y="629.3" font-size="9" fill="#231F20" font-weight="normal" text-anchor="start">12</text>
<text x="1225.3" y="646.6" font-size="9" fill="#231F20" font-weight="normal" text-anchor="start">10</text>
<text x="1225.3" y="663.8" font-size="9" fill="#231F20" font-weight="normal" text-anchor="start">8</text>
<text x="1225.3" y="681.1" font-size="9" fill="#231F20" font-weight="normal" text-anchor="start">5</text>
<text x="1225.3" y="698.3" font-size="9" fill="#231F20" font-weight="normal" text-anchor="start">4</text>
<text x="1225.3" y="715.6" font-size="9" fill="#231F20" font-weight="normal" text-anchor="start">3</text>
<text x="1225.3" y="732.8" font-size="9" fill="#231F20" font-weight="normal" text-anchor="start">2</text>
<text x="1225.3" y="750.1" font-size="9" fill="#231F20" font-weight="normal" text-anchor="start">1</text>
<path d="M1207.5 523H1223.2" stroke="#4a4a30" stroke-width="0.6"/>
<path d="M1207.5 574.8H1223.2" stroke="#4a4a30" stroke-width="0.6"/>
<path d="M1207.5 592H1223.2" stroke="#4a4a30" stroke-width="0.6"/>
<path d="M1207.5 609.3H1223.2" stroke="#4a4a30" stroke-width="0.6"/>
<path d="M1207.5 661H1223.2" stroke="#4a4a30" stroke-width="0.6"/>
<path d="M1207.5 712.8H1223.2" stroke="#4a4a30" stroke-width="0.6"/>
<path d="M1207.5 747.3H1223.2" stroke="#4a4a30" stroke-width="0.6"/>
<text x="1185.2" y="479.3" font-size="11.6" fill="#231F20" font-weight="normal" text-anchor="start" textLength="72.5" lengthAdjust="spacingAndGlyphs">Chargeability</text>
<text x="1202" y="494" font-size="11.6" fill="#231F20" font-weight="normal" text-anchor="start" textLength="38.8" lengthAdjust="spacingAndGlyphs">(mV/V)</text>
<path d="M708.2 793H746V840.3H761.6L726.1 875.7L690.7 840.3H708.2Z" fill="#BC5A4D"/>
<text x="459.8" y="897" font-size="17.5" fill="#1F2D62" font-weight="bold" text-anchor="start" textLength="513" lengthAdjust="spacingAndGlyphs">Remains open beyond 250 metre vertical depth</text>
</svg>
</body></html>
